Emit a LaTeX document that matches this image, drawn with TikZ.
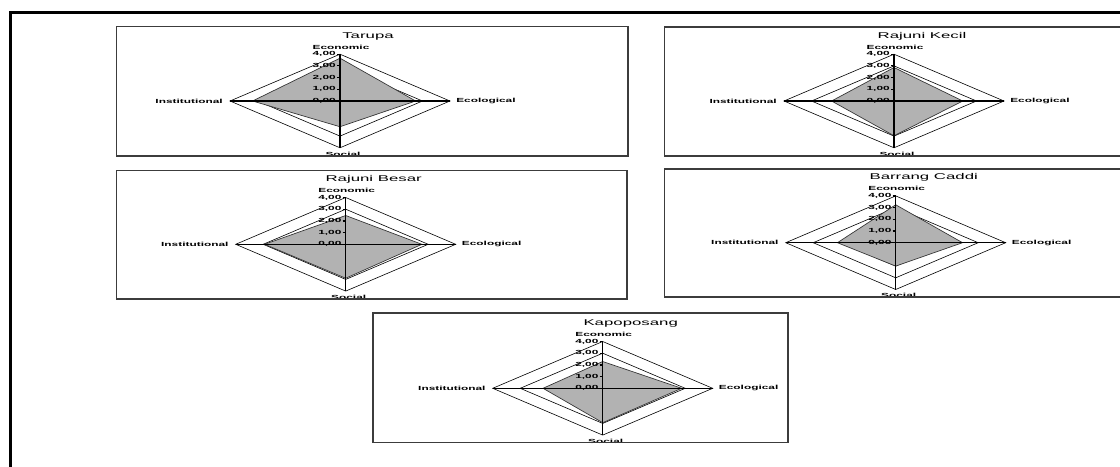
\documentclass[tikz,border=0pt]{standalone}
\usepackage{graphicx}
\usepackage{fontspec}
\setmainfont{Liberation Sans}
\usepackage{tikz}
\usetikzlibrary{calc}
\definecolor{seriesgrey}{RGB}{178,178,178}
\definecolor{boxgrey}{RGB}{60,60,60}
\newcommand{\vsquash}[1]{\scalebox{1}[0.5]{#1}}

% one radar panel: name, centre x, centre y, title, economic, ecological, social, institutional
\newcommand{\radarpanel}[8]{%
  \begin{scope}[shift={(#2,#3)}]
    \foreach \r in {1,...,4}
      \draw[ring] (0,-\r*11.7) -- (\r*27.5,0) -- (0,\r*11.7) -- (-\r*27.5,0) -- cycle;
    \draw[series] (0,-#5*11.7) -- (#6*27.5,0) -- (0,#7*11.7) -- (-#8*27.5,0) -- cycle;
    \draw[axisline] (0,-46.8) -- (0,46.8);
    \draw[axisline] (-110,0) -- (110,0);
    \foreach \v in {0,...,4}{
      \draw[axisline] (-3,-\v*11.7) -- (0,-\v*11.7);
      \node[ticklabel] (#1-t\v) at (-4,-\v*11.7) {\vsquash{\v,00}};
    }
    \node[paneltitle] (#1-title) at (28,-65) {\vsquash{#4}};
    \node[axislabel] (#1-econ) at (1,-54) {\vsquash{Economic}};
    \node[axislabel, anchor=west] (#1-ecol) at (116,0) {\vsquash{Ecological}};
    \node[axislabel] (#1-soc) at (3,53) {\vsquash{Social}};
    \node[axislabel, anchor=east] (#1-inst) at (-117,0) {\vsquash{Institutional}};
  \end{scope}}

\begin{document}
\begin{tikzpicture}[
  x=0.75pt, y=-0.75pt,
  ring/.style={draw=black, line width=0.45pt},
  series/.style={draw=black!80, fill=seriesgrey, line width=0.5pt},
  axisline/.style={draw=black, line width=0.9pt},
  ticklabel/.style={anchor=east, inner sep=0pt, font=\fontsize{8.9}{10}\selectfont\bfseries},
  axislabel/.style={inner sep=0pt, font=\fontsize{8.9}{10}\selectfont\bfseries},
  paneltitle/.style={inner sep=0pt, font=\fontsize{12.6}{14}\selectfont},
  panelbox/.style={draw=boxgrey, line width=0.8pt},
]
\clip (0,0) rectangle (1120,467);

% Outer frame
\draw[line width=1.6pt] (10.5,12.5) rectangle (1140,480);

% Panel: Tarupa
\radarpanel{tarupa}{340}{101}{Tarupa}{3.66}{2.75}{2.2}{3.18}
\draw[panelbox] (116.5,26.5) rectangle (628,156);

% Panel: Rajuni Kecil
\radarpanel{kecil}{894}{101}{Rajuni Kecil}{2.86}{2.5}{2.97}{2.27}
\draw[panelbox] (664.5,27) rectangle (1125,156);

% Panel: Rajuni Besar
\radarpanel{besar}{345.7}{244.3}{Rajuni Besar}{2.46}{2.77}{2.9}{2.95}
\draw[panelbox] (116.5,170.5) rectangle (627,299);

% Panel: Barrang Caddi
\radarpanel{caddi}{895.7}{242.7}{Barrang Caddi}{3.24}{2.43}{2.0}{2.12}
\draw[panelbox] (664.5,169) rectangle (1125,297);

% Panel: Kapoposang
\radarpanel{kapo}{602.7}{388.3}{Kapoposang}{2.29}{2.87}{2.94}{2.17}
\draw[panelbox] (373,313) rectangle (788,442.7);

\end{tikzpicture}
\end{document}
